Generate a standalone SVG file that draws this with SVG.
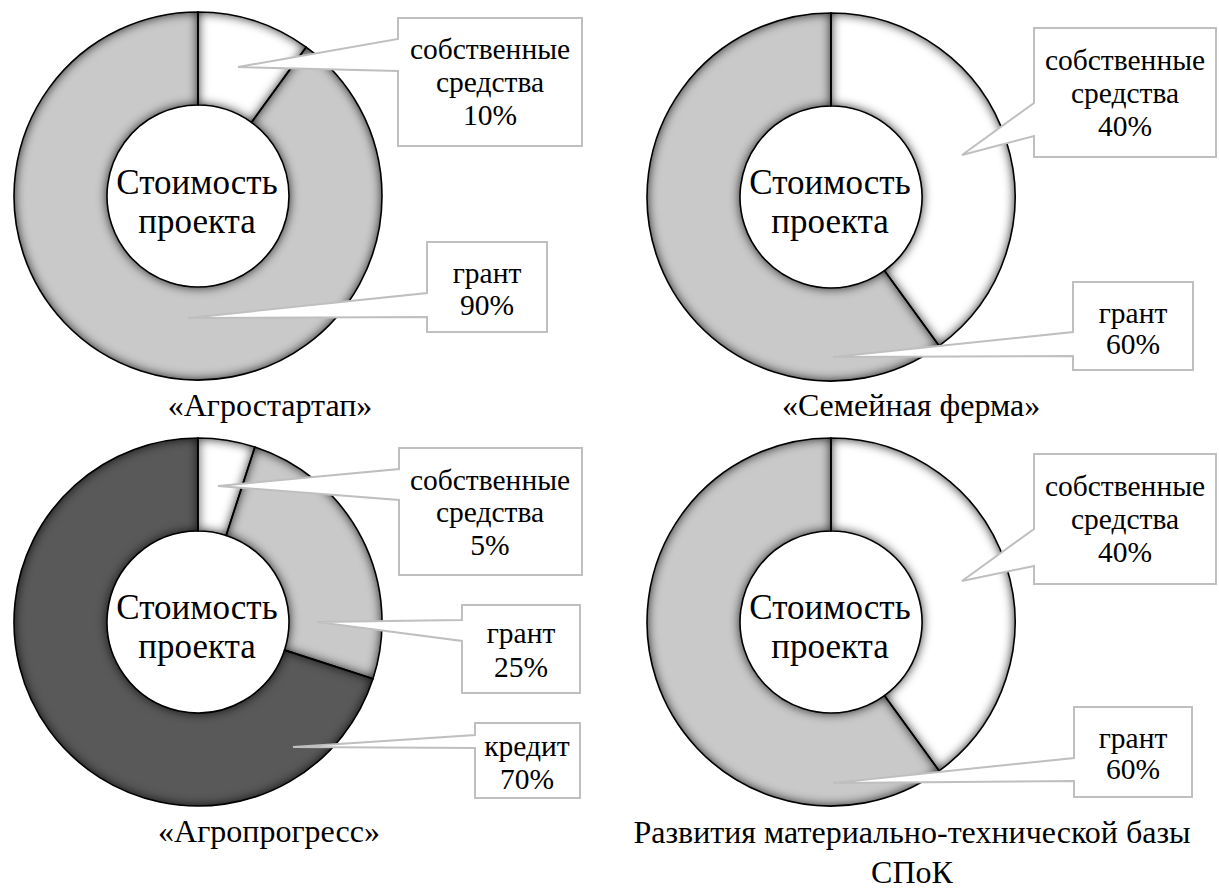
<svg xmlns="http://www.w3.org/2000/svg" width="1219" height="890" viewBox="0 0 1219 890">
<defs>
<filter id="bevel" x="-10%" y="-10%" width="120%" height="120%" color-interpolation-filters="sRGB">
<feFlood flood-color="#000000" flood-opacity="0.9" result="fl"/>
<feComposite in="fl" in2="SourceAlpha" operator="out" result="outside"/>
<feGaussianBlur in="outside" stdDeviation="5.5" result="bl"/>
<feComposite in="bl" in2="SourceAlpha" operator="in" result="sh"/>
<feMerge><feMergeNode in="SourceGraphic"/><feMergeNode in="sh"/></feMerge>
</filter>
</defs>
<rect width="1219" height="890" fill="#ffffff"/>

<g id="chart1">
<path id="c1-own" fill="#ffffff" filter="url(#bevel)" d="M198,12 A184,184 0 0 1 306.16,47.14 L251.49,122.38 A91,91 0 0 0 198,105 Z"/>
<path id="c1-grant" fill="#c9c9c9" filter="url(#bevel)" d="M306.16,47.14 A184,184 0 1 1 198,12 L198,105 A91,91 0 1 0 251.49,122.38 Z"/>
<path fill="none" stroke="#000000" stroke-width="1.6" d="M198,12 A184,184 0 0 1 306.16,47.14 L251.49,122.38 A91,91 0 0 0 198,105 Z"/>
<path fill="none" stroke="#000000" stroke-width="1.6" d="M306.16,47.14 A184,184 0 1 1 198,12 L198,105 A91,91 0 1 0 251.49,122.38 Z"/>
<text font-family="Liberation Serif, serif" font-size="35" text-anchor="middle" x="197" y="194">Стоимость</text>
<text font-family="Liberation Serif, serif" font-size="35" text-anchor="middle" x="197" y="233">проекта</text>
<text font-family="Liberation Serif, serif" font-size="32" text-anchor="middle" x="270" y="416">«Агростартап»</text>
</g>

<g id="chart2">
<path id="c2-own" fill="#ffffff" filter="url(#bevel)" d="M831,13 A184,184 0 0 1 939.16,345.86 L884.49,270.62 A91,91 0 0 0 831,106 Z"/>
<path id="c2-grant" fill="#c9c9c9" filter="url(#bevel)" d="M939.16,345.86 A184,184 0 1 1 831,13 L831,106 A91,91 0 1 0 884.49,270.62 Z"/>
<path fill="none" stroke="#000000" stroke-width="1.6" d="M831,13 A184,184 0 0 1 939.16,345.86 L884.49,270.62 A91,91 0 0 0 831,106 Z"/>
<path fill="none" stroke="#000000" stroke-width="1.6" d="M939.16,345.86 A184,184 0 1 1 831,13 L831,106 A91,91 0 1 0 884.49,270.62 Z"/>
<text font-family="Liberation Serif, serif" font-size="35" text-anchor="middle" x="830" y="194">Стоимость</text>
<text font-family="Liberation Serif, serif" font-size="35" text-anchor="middle" x="830" y="233">проекта</text>
<text font-family="Liberation Serif, serif" font-size="32" text-anchor="middle" x="911" y="416">«Семейная ферма»</text>
</g>

<g id="chart3">
<path id="c3-own" fill="#ffffff" filter="url(#bevel)" d="M198,438 A184,184 0 0 1 254.86,447 L226.12,535.45 A91,91 0 0 0 198,531 Z"/>
<path id="c3-grant" fill="#c9c9c9" filter="url(#bevel)" d="M254.86,447 A184,184 0 0 1 373,678.86 L284.55,650.12 A91,91 0 0 0 226.12,535.45 Z"/>
<path id="c3-credit" fill="#595959" filter="url(#bevel)" d="M373,678.86 A184,184 0 1 1 198,438 L198,531 A91,91 0 1 0 284.55,650.12 Z"/>
<path fill="none" stroke="#000000" stroke-width="1.6" d="M198,438 A184,184 0 0 1 254.86,447 L226.12,535.45 A91,91 0 0 0 198,531 Z"/>
<path fill="none" stroke="#000000" stroke-width="1.6" d="M254.86,447 A184,184 0 0 1 373,678.86 L284.55,650.12 A91,91 0 0 0 226.12,535.45 Z"/>
<path fill="none" stroke="#000000" stroke-width="1.6" d="M373,678.86 A184,184 0 1 1 198,438 L198,531 A91,91 0 1 0 284.55,650.12 Z"/>
<text font-family="Liberation Serif, serif" font-size="35" text-anchor="middle" x="197" y="619">Стоимость</text>
<text font-family="Liberation Serif, serif" font-size="35" text-anchor="middle" x="197" y="658">проекта</text>
<text font-family="Liberation Serif, serif" font-size="32" text-anchor="middle" x="269" y="842">«Агропрогресс»</text>
</g>

<g id="chart4">
<path id="c4-own" fill="#ffffff" filter="url(#bevel)" d="M831,438 A184,184 0 0 1 939.16,770.86 L884.49,695.62 A91,91 0 0 0 831,531 Z"/>
<path id="c4-grant" fill="#c9c9c9" filter="url(#bevel)" d="M939.16,770.86 A184,184 0 1 1 831,438 L831,531 A91,91 0 1 0 884.49,695.62 Z"/>
<path fill="none" stroke="#000000" stroke-width="1.6" d="M831,438 A184,184 0 0 1 939.16,770.86 L884.49,695.62 A91,91 0 0 0 831,531 Z"/>
<path fill="none" stroke="#000000" stroke-width="1.6" d="M939.16,770.86 A184,184 0 1 1 831,438 L831,531 A91,91 0 1 0 884.49,695.62 Z"/>
<text font-family="Liberation Serif, serif" font-size="35" text-anchor="middle" x="830" y="619">Стоимость</text>
<text font-family="Liberation Serif, serif" font-size="35" text-anchor="middle" x="830" y="658">проекта</text>
<text font-family="Liberation Serif, serif" font-size="32" text-anchor="middle" x="912" y="843">Развития материально-технической базы</text>
<text font-family="Liberation Serif, serif" font-size="32" text-anchor="middle" x="912" y="883">СПоК</text>
</g>

<g id="connectors">
<g id="c1-own-label">
<path fill="#ffffff" stroke="#bfbfbf" stroke-width="2" d="M398,18 H582 V146 H398 V71 L238,67 L398,39 Z"/>
<text font-family="Liberation Serif, serif" font-size="29.5" text-anchor="middle" x="490" y="59">собственные</text>
<text font-family="Liberation Serif, serif" font-size="29.5" text-anchor="middle" x="490" y="92">средства</text>
<text font-family="Liberation Serif, serif" font-size="29.5" text-anchor="middle" x="490" y="125">10%</text>
</g>
<g id="c1-grant-label">
<path fill="#ffffff" stroke="#bfbfbf" stroke-width="2" d="M427,242 H547 V332 H427 V317 L188,318 L427,293 Z"/>
<text font-family="Liberation Serif, serif" font-size="29.5" text-anchor="middle" x="487" y="283">грант</text>
<text font-family="Liberation Serif, serif" font-size="29.5" text-anchor="middle" x="487" y="315">90%</text>
</g>
<g id="c2-own-label">
<path fill="#ffffff" stroke="#bfbfbf" stroke-width="2" d="M1034,28 H1216 V157 H1034 V136 L962,155 L1034,103 Z"/>
<text font-family="Liberation Serif, serif" font-size="29.5" text-anchor="middle" x="1125" y="70">собственные</text>
<text font-family="Liberation Serif, serif" font-size="29.5" text-anchor="middle" x="1125" y="103">средства</text>
<text font-family="Liberation Serif, serif" font-size="29.5" text-anchor="middle" x="1125" y="136">40%</text>
</g>
<g id="c2-grant-label">
<path fill="#ffffff" stroke="#bfbfbf" stroke-width="2" d="M1073,282 H1193 V370 H1073 V356 L833,357 L1073,332 Z"/>
<text font-family="Liberation Serif, serif" font-size="29.5" text-anchor="middle" x="1133" y="323">грант</text>
<text font-family="Liberation Serif, serif" font-size="29.5" text-anchor="middle" x="1133" y="354">60%</text>
</g>
<g id="c3-own-label">
<path fill="#ffffff" stroke="#bfbfbf" stroke-width="2" d="M399,448 H582 V575 H399 V500 L218,486 L399,469 Z"/>
<text font-family="Liberation Serif, serif" font-size="29.5" text-anchor="middle" x="490" y="490">собственные</text>
<text font-family="Liberation Serif, serif" font-size="29.5" text-anchor="middle" x="490" y="522">средства</text>
<text font-family="Liberation Serif, serif" font-size="29.5" text-anchor="middle" x="490" y="555">5%</text>
</g>
<g id="c3-grant-label">
<path fill="#ffffff" stroke="#bfbfbf" stroke-width="2" d="M462,605 H580 V693 H462 V641 L317,622 L462,620 Z"/>
<text font-family="Liberation Serif, serif" font-size="29.5" text-anchor="middle" x="521" y="643">грант</text>
<text font-family="Liberation Serif, serif" font-size="29.5" text-anchor="middle" x="521" y="677">25%</text>
</g>
<g id="c3-credit-label">
<path fill="#ffffff" stroke="#bfbfbf" stroke-width="2" d="M475,723 H580 V798 H475 V748 L293,747 L475,735 Z"/>
<text font-family="Liberation Serif, serif" font-size="29.5" text-anchor="middle" x="527" y="756">кредит</text>
<text font-family="Liberation Serif, serif" font-size="29.5" text-anchor="middle" x="527" y="789">70%</text>
</g>
<g id="c4-own-label">
<path fill="#ffffff" stroke="#bfbfbf" stroke-width="2" d="M1034,454 H1216 V584 H1034 V566 L962,581 L1034,529 Z"/>
<text font-family="Liberation Serif, serif" font-size="29.5" text-anchor="middle" x="1125" y="496">собственные</text>
<text font-family="Liberation Serif, serif" font-size="29.5" text-anchor="middle" x="1125" y="529">средства</text>
<text font-family="Liberation Serif, serif" font-size="29.5" text-anchor="middle" x="1125" y="562">40%</text>
</g>
<g id="c4-grant-label">
<path fill="#ffffff" stroke="#bfbfbf" stroke-width="2" d="M1074,707 H1192 V797 H1074 V781 L833,783 L1074,758 Z"/>
<text font-family="Liberation Serif, serif" font-size="29.5" text-anchor="middle" x="1133" y="748">грант</text>
<text font-family="Liberation Serif, serif" font-size="29.5" text-anchor="middle" x="1133" y="779">60%</text>
</g>
</g>
</svg>
